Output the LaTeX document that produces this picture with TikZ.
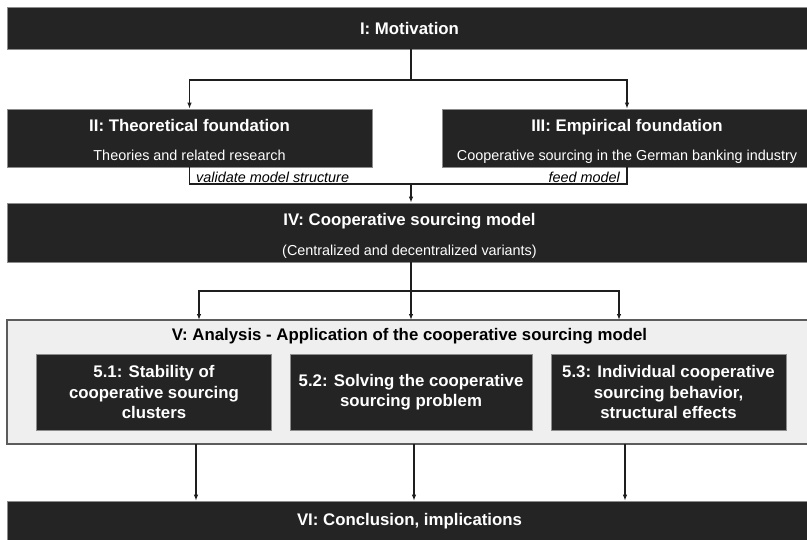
\documentclass[tikz,border=0pt]{standalone}
\usepackage{fontspec}
\setmainfont{Liberation Sans}
\usetikzlibrary{arrows.meta}
\definecolor{boxdark}{HTML}{242424}
\definecolor{boxedge}{HTML}{8C8C8C}
\definecolor{panelfill}{HTML}{EFEFEF}
\definecolor{paneledge}{HTML}{5C5C5C}
\definecolor{wire}{HTML}{1E1E1E}
\begin{document}
\begin{tikzpicture}[x=1pt,y=-1pt,
  darkbox/.style={draw=boxedge,line width=0.7pt,fill=boxdark,inner sep=0pt,
    text=white,font=\fontsize{16.8}{20.5}\selectfont\bfseries,align=center},
  panel/.style={draw=paneledge,line width=1.2pt,fill=panelfill,inner sep=0pt},
  headtext/.style={text=white,font=\fontsize{16.8}{19}\selectfont\bfseries,inner sep=0pt,
    text height=12.2pt,text depth=3.6pt},
  paneltext/.style={text=black,font=\fontsize{16.8}{19}\selectfont\bfseries,inner sep=0pt},
  subtext/.style={text=white,font=\fontsize{14.4}{17}\selectfont,inner sep=0pt,
    text height=10.4pt,text depth=3.1pt},
  flowlabel/.style={text=black,font=\fontsize{14.4}{17}\selectfont\itshape,inner sep=0pt},
  conn/.style={draw=wire,line width=1.2pt},
  arr/.style={conn,-{Latex[length=6pt,width=4.5pt]}},
]
\useasboundingbox (0,0) rectangle (807,539);
\clip (0,0) rectangle (807,539);
\fill[white] (0,0) rectangle (807,539);

% Chapter I
\node[darkbox,minimum width=805,minimum height=42] (mot) at (409.5,28) {I: Motivation};

% Chapters II and III
\node[darkbox,minimum width=365,minimum height=58] (thy) at (189.5,138) {};
\node[headtext] (thyT) at (189.5,127.3) {II: Theoretical foundation};
\node[subtext] (thyS) at (189.5,157) {Theories and related research};

\node[darkbox,minimum width=370,minimum height=58] (emp) at (627,138) {};
\node[headtext] (empT) at (627,127.3) {III: Empirical foundation};
\node[subtext] (empS) at (627,157) {Cooperative sourcing in the German banking industry};

% Chapter IV
\node[darkbox,minimum width=805,minimum height=59] (mod) at (409.5,232.5) {};
\node[headtext] (modT) at (409.5,221.5) {IV: Cooperative sourcing model};
\node[subtext] (modS) at (409.5,251.5) {(Centralized and decentralized variants)};

% Chapter V with its three sections
\node[panel,minimum width=805,minimum height=124] (ana) at (409.5,382) {};
\node[paneltext] (anaT) at (409.5,336) {V: Analysis - Application of the cooperative sourcing model};
\node[darkbox,minimum width=235,minimum height=76] (s51) at (154,392)
  {5.1: Stability of\\cooperative sourcing\\clusters};
\node[darkbox,minimum width=242,minimum height=76] (s52) at (411,392)
  {5.2: Solving the cooperative\\sourcing problem};
\node[darkbox,minimum width=235,minimum height=76] (s53) at (668.5,392)
  {5.3: Individual cooperative\\sourcing behavior,\\structural effects};

% Chapter VI
\node[darkbox,minimum width=805,minimum height=60] (con) at (409.5,531) {};
\node[headtext] (conT) at (409.5,521.5) {VI: Conclusion, implications};

% I -> II, III
\coordinate (j1) at (411,80);
\draw[conn] (mot.south -| j1) -- (j1);
\draw[arr] (j1) -| (thy.north);
\draw[arr] (j1) -| (emp.north);

% II, III -> IV
\coordinate (j2) at (411,184);
\draw[conn] (thy.south) |- (j2) -| (emp.south);
\draw[arr] (j2) -- (j2 |- mod.north);
\node[flowlabel,anchor=west] (lblA) at (196,177) {validate model structure};
\node[flowlabel,anchor=east] (lblB) at (620,177) {feed model};

% IV -> V
\coordinate (j3) at (411,291);
\coordinate (in1) at (199,320);
\coordinate (in2) at (411,320);
\coordinate (in3) at (619,320);
\draw[conn] (mod.south -| j3) -- (j3);
\draw[arr] (j3) -| (in1);
\draw[arr] (j3) -- (in2);
\draw[arr] (j3) -| (in3);

% V -> VI
\coordinate (o1) at (196,444);
\coordinate (o2) at (414,444);
\coordinate (o3) at (625,444);
\draw[arr] (o1) -- (o1 |- con.north);
\draw[arr] (o2) -- (o2 |- con.north);
\draw[arr] (o3) -- (o3 |- con.north);
\end{tikzpicture}
\end{document}
